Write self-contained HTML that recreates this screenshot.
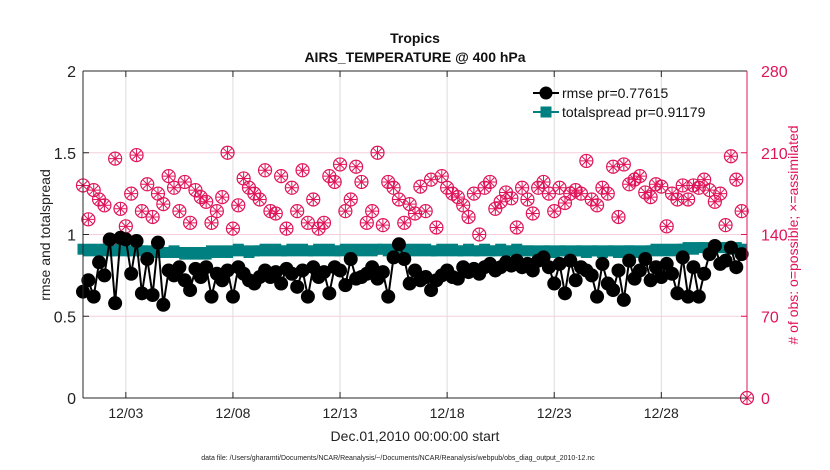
<!DOCTYPE html>
<html><head><meta charset="utf-8">
<style>
html,body{margin:0;padding:0;background:#fff;}
svg{display:block;font-family:"Liberation Sans",Arial,sans-serif;}
</style></head>
<body>
<svg id="chart" width="830" height="470" viewBox="0 0 830 470" xmlns="http://www.w3.org/2000/svg">
  <rect x="0" y="0" width="830" height="470" fill="#fff"/>
  <text x="415" y="43" text-anchor="middle" font-size="14" font-weight="bold" fill="#111">Tropics</text>
  <text x="415" y="62" text-anchor="middle" font-size="14" font-weight="bold" fill="#111">AIRS_TEMPERATURE @ 400 hPa</text>
  <g id="grid"></g>
  <g id="series"></g>
  <g id="axes"></g>
  <g>
    <line x1="533" y1="93" x2="559" y2="93" stroke="#000" stroke-width="2"/>
    <circle cx="546" cy="93" r="6.5" fill="#000"/>
    <text x="562" y="98" font-size="14" fill="#111">rmse pr=0.77615</text>
    <line x1="533" y1="112" x2="559" y2="112" stroke="#008080" stroke-width="2"/>
    <rect x="540.5" y="106.5" width="11" height="11" fill="#008080"/>
    <text x="562" y="117" font-size="14" fill="#111">totalspread pr=0.91179</text>
  </g>
  <text transform="translate(50,235) rotate(-90)" text-anchor="middle" font-size="14" fill="#222">rmse and totalspread</text>
  <text transform="translate(798,235) rotate(-90)" text-anchor="middle" font-size="14" fill="#e0145a"># of obs: o=possible; ×=assimilated</text>
  <text x="415" y="441" text-anchor="middle" font-size="14" fill="#222">Dec.01,2010 00:00:00 start</text>
  <text x="398" y="460" text-anchor="middle" font-size="7" fill="#222">data file: /Users/gharamti/Documents/NCAR/Reanalysis/~/Documents/NCAR/Reanalysis/webpub/obs_diag_output_2010-12.nc</text>
</svg>
<script>
const rmse = [0.65,0.72,0.62,0.83, 0.75,0.97,0.58,0.98, 0.97,0.76,0.96,0.64, 0.85,0.63,0.95,0.57,
 0.78,0.75,0.80,0.72, 0.66,0.79,0.74,0.80, 0.62,0.76,0.72,0.78, 0.62,0.80,0.76,0.72,
 0.70,0.74,0.78,0.74, 0.77,0.70,0.79,0.76, 0.68,0.78,0.62,0.80, 0.74,0.77,0.64,0.80,
 0.78,0.69,0.85,0.73, 0.74,0.76,0.80,0.73, 0.77,0.62,0.86,0.94, 0.85,0.70,0.78,0.72,
 0.74,0.66,0.72,0.75, 0.78,0.74,0.73,0.80, 0.77,0.79,0.76,0.80, 0.82,0.78,0.80,0.83,
 0.81,0.84,0.80,0.82, 0.78,0.84,0.86,0.80, 0.70,0.82,0.64,0.84, 0.72,0.80,0.78,0.75,
 0.62,0.82,0.70,0.66, 0.78,0.60,0.84,0.73, 0.78,0.85,0.72,0.80, 0.74,0.82,0.76,0.64,
 0.86,0.62,0.80,0.62, 0.76,0.88,0.93,0.82, 0.84,0.92,0.80,0.88];
const spread = [0.91,0.90,0.91,0.90, 0.91,0.90,0.90,0.91, 0.90,0.90,0.91,0.90, 0.90,0.89,0.90,0.89,
 0.89,0.90,0.89,0.88, 0.89,0.88,0.89,0.88, 0.90,0.89,0.90,0.89, 0.90,0.91,0.90,0.89,
 0.90,0.90,0.91,0.90, 0.91,0.90,0.90,0.91, 0.90,0.91,0.90,0.90, 0.91,0.90,0.91,0.90,
 0.90,0.91,0.90,0.91, 0.90,0.91,0.90,0.91, 0.91,0.90,0.91,0.92, 0.91,0.90,0.91,0.90,
 0.91,0.90,0.90,0.91, 0.90,0.91,0.90,0.90, 0.91,0.90,0.90,0.91, 0.90,0.90,0.91,0.90,
 0.90,0.91,0.90,0.90, 0.90,0.89,0.90,0.90, 0.89,0.90,0.90,0.89, 0.90,0.90,0.89,0.90,
 0.90,0.89,0.90,0.90, 0.89,0.90,0.90,0.90, 0.89,0.90,0.90,0.91, 0.90,0.91,0.90,0.91,
 0.91,0.92,0.91,0.92, 0.92,0.91,0.92,0.92, 0.92,0.91,0.92,0.91];
const obsCount = [182,153,178,170, 165,134,205,162, 147,175,208,160, 183,155,175,166,
 190,180,160,185, 150,178,172,168, 150,160,172,210, 145,165,188,180,
 175,170,195,160, 158,190,145,180, 160,195,150,170, 145,150,190,185,
 200,160,170,198, 185,150,160,210, 148,185,180,170, 150,166,158,181,
 160,187,146,190, 180,175,172,165, 155,175,140,180, 185,162,168,176,
 171,146,180,170, 158,180,185,175, 160,180,167,175, 178,175,203,170,
 165,180,175,198, 155,200,183,187, 190,176,172,183, 181,147,175,170,
 182,170,182,180, 187,178,168,175, 148,207,187,160, 0];
const xTickLabels = ["12/03","12/08","12/13","12/18","12/23","12/28"];
const xTickDays = [2,7,12,17,22,27];
const yTickLabels = ["0","0.5","1","1.5","2"];
const yTickValues = [0,0.5,1,1.5,2];
const y2TickLabels = ["0","70","140","210","280"];
const y2TickValues = [0,70,140,210,280];

const L=83,R=747,T=71,B=398;
const X0=0,X1=31;
const sx=d=>L+(d-X0)/(X1-X0)*(R-L);
const sy=v=>B-(v/2)*(B-T);
const sy2=v=>B-(v/280)*(B-T);
const NS="http://www.w3.org/2000/svg";
function mk(tag,attrs,parent){const e=document.createElementNS(NS,tag);for(const k in attrs)e.setAttribute(k,attrs[k]);parent.appendChild(e);return e;}
const grid=document.getElementById('grid'),ser=document.getElementById('series'),ax=document.getElementById('axes');
const PINK="#e0145a";

xTickDays.forEach((d,i)=>{
  const g=mk('line',{x1:sx(d),x2:sx(d),y1:T,y2:B,stroke:'#dcdcdc','stroke-width':1},grid);
  
  
  const t=mk('line',{x1:sx(d),x2:sx(d),y1:B,y2:B-6,stroke:'#262626','stroke-width':1},ax);
  
  
  const tt=mk('line',{x1:sx(d),x2:sx(d),y1:T,y2:T+6,stroke:'#262626','stroke-width':1},ax);
  
  
  const lb=mk('text',{x:sx(d),y:B+20,'text-anchor':'middle','font-size':14,fill:'#222'},ax);
  lb.textContent=xTickLabels[i];
  
  
});
y2TickValues.forEach((v,i)=>{
  if(v>0&&v<280){
    const g=mk('line',{x1:L,x2:R,y1:sy2(v),y2:sy2(v),stroke:'#f6cfdc','stroke-width':1},grid);
    
    
  }
  const t=mk('line',{x1:R,x2:R-6,y1:sy2(v),y2:sy2(v),stroke:PINK,'stroke-width':1},ax);
  
  
  const lb=mk('text',{x:R+14,y:sy2(v)+6,'font-size':16,fill:PINK},ax);
  lb.textContent=y2TickLabels[i];
  
  
});
yTickValues.forEach((v,i)=>{
  const t=mk('line',{x1:L,x2:L+6,y1:sy(v),y2:sy(v),stroke:'#262626','stroke-width':1},ax);
  
  
  const lb=mk('text',{x:L-7,y:sy(v)+6,'text-anchor':'end','font-size':16,fill:'#222'},ax);
  lb.textContent=yTickLabels[i];
  
  
});
const a1=mk('line',{x1:L,x2:L,y1:T,y2:B,stroke:'#262626','stroke-width':1},ax);


const a2=mk('line',{x1:L,x2:R,y1:B,y2:B,stroke:'#262626','stroke-width':1},ax);


const a3=mk('line',{x1:L,x2:R,y1:T,y2:T,stroke:'#262626','stroke-width':1},ax);


const a4=mk('line',{x1:R,x2:R,y1:T,y2:B,stroke:PINK,'stroke-width':1},ax);



obsCount.forEach((c,i)=>{
  const cx=sx(i*0.25),cy=sy2(c);
  const g=mk('g',{},ser);
  
  
  mk('circle',{cx:cx,cy:cy,r:6.5,fill:'none',stroke:PINK,'stroke-width':1.2},g);
  const r=6;
  mk('path',{d:`M${cx-r} ${cy}H${cx+r}M${cx} ${cy-r}V${cy+r}M${cx-r*0.7} ${cy-r*0.7}L${cx+r*0.7} ${cy+r*0.7}M${cx-r*0.7} ${cy+r*0.7}L${cx+r*0.7} ${cy-r*0.7}`,stroke:PINK,'stroke-width':1},g);
});
const sp=mk('polyline',{points:spread.map((v,i)=>sx(i*0.25)+','+sy(v)).join(' '),fill:'none',stroke:'#008080','stroke-width':2},ser);


spread.forEach((v,i)=>{
  const m=mk('rect',{x:sx(i*0.25)-5.5,y:sy(v)-5.5,width:11,height:11,fill:'#008080'},ser);
  
  
});
const rl=mk('polyline',{points:rmse.map((v,i)=>sx(i*0.25)+','+sy(v)).join(' '),fill:'none',stroke:'#000','stroke-width':2},ser);


rmse.forEach((v,i)=>{
  const m=mk('circle',{cx:sx(i*0.25),cy:sy(v),r:7,fill:'#000'},ser);
  
  
});
</script>
</body></html>
